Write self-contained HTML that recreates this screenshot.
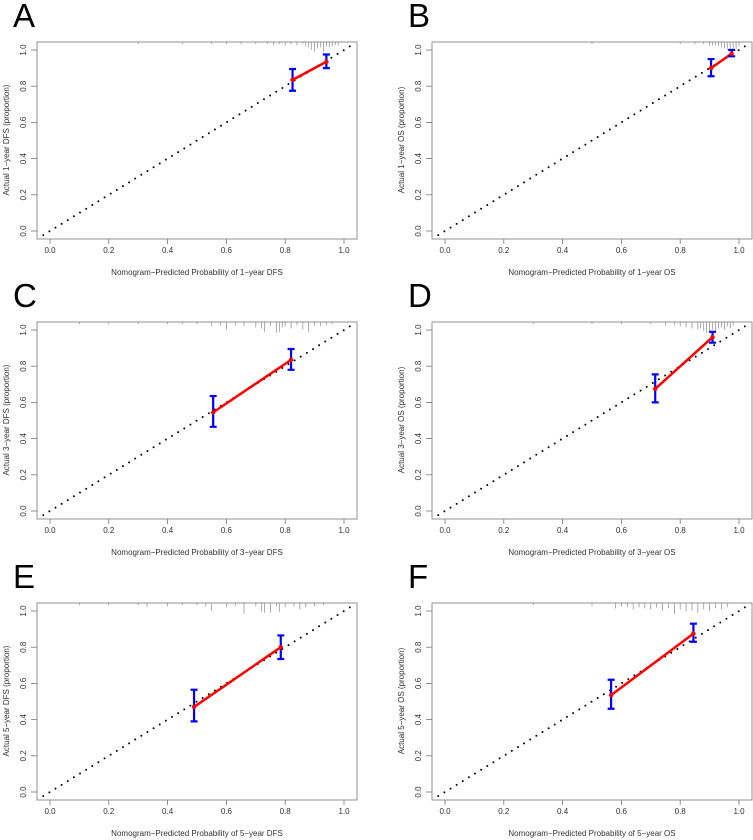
<!DOCTYPE html>
<html><head><meta charset="utf-8"><style>
html,body{margin:0;padding:0;background:#fff;}
svg{display:block;font-family:"Liberation Sans",sans-serif;}
</style></head><body>
<svg id="fig" width="753" height="840" viewBox="0 0 753 840" xmlns="http://www.w3.org/2000/svg"></svg>
<script>
const panelLetters = ['A','B','C','D','E','F'];
const xTitles = ['Nomogram\u2212Predicted Probability of 1\u2212year DFS','Nomogram\u2212Predicted Probability of 1\u2212year OS','Nomogram\u2212Predicted Probability of 3\u2212year DFS','Nomogram\u2212Predicted Probability of 3\u2212year OS','Nomogram\u2212Predicted Probability of 5\u2212year DFS','Nomogram\u2212Predicted Probability of 5\u2212year OS'];
const yTitles = ['Actual 1\u2212year DFS (proportion)','Actual 1\u2212year OS (proportion)','Actual 3\u2212year DFS (proportion)','Actual 3\u2212year OS (proportion)','Actual 5\u2212year DFS (proportion)','Actual 5\u2212year OS (proportion)'];
const tickValues = [0,0.2,0.4,0.6,0.8,1.0];
const tickLabels = ['0.0','0.2','0.4','0.6','0.8','1.0'];
const predA=[0.825,0.94], obsA=[0.835,0.935], loA=[0.775,0.90], hiA=[0.895,0.975];
const predB=[0.905,0.975], obsB=[0.90,0.98], loB=[0.855,0.965], hiB=[0.95,1.0];
const predC=[0.555,0.82], obsC=[0.545,0.835], loC=[0.465,0.78], hiC=[0.635,0.895];
const predD=[0.715,0.91], obsD=[0.675,0.96], loD=[0.60,0.93], hiD=[0.755,0.99];
const predE=[0.49,0.785], obsE=[0.47,0.80], loE=[0.39,0.735], hiE=[0.565,0.865];
const predF=[0.565,0.845], obsF=[0.535,0.875], loF=[0.46,0.83], hiF=[0.62,0.93];
const rugA=[0.3,0.45,0.55,0.6,0.65,0.7,0.74,0.76,0.78,0.8,0.82,0.84,0.86,0.87,0.88,0.89,0.9,0.91,0.92,0.93,0.94,0.95,0.96,0.97,0.98];
const rugAh=[1,1,1,1,1,1,1,2,1,2,1,2,1,3,4,6,8,5,4,8,3,4,3,2,2];
const rugB=[0.5,0.8,0.85,0.88,0.9,0.91,0.92,0.93,0.94,0.95,0.96,0.97,0.98,0.99,1.0];
const rugBh=[1,1,1,1,2,2,2,3,4,5,6,7,6,5,3];
const rugC=[0.1,0.2,0.3,0.4,0.45,0.5,0.55,0.58,0.6,0.63,0.66,0.7,0.72,0.73,0.75,0.77,0.78,0.79,0.8,0.82,0.84,0.86,0.88,0.9,0.92,0.94,0.96];
const rugCh=[1,1,1,1,1,1,3,2,6,2,3,4,5,8,3,9,8,4,3,5,2,6,8,2,3,2,1];
const rugD=[0.3,0.5,0.6,0.7,0.75,0.78,0.8,0.82,0.84,0.86,0.87,0.88,0.89,0.9,0.91,0.92,0.93,0.94,0.95,0.96,0.97,0.98];
const rugDh=[1,1,1,1,2,2,3,4,5,6,5,7,9,8,6,7,5,4,6,3,5,2];
const rugE=[0.1,0.2,0.3,0.33,0.4,0.45,0.5,0.53,0.55,0.6,0.63,0.66,0.7,0.72,0.73,0.75,0.77,0.78,0.8,0.83,0.85,0.87,0.9,0.93];
const rugEh=[1,1,1,3,2,1,1,2,6,3,2,9,2,7,8,8,2,7,3,2,5,3,2,1];
const rugF=[0.3,0.5,0.58,0.6,0.62,0.64,0.66,0.68,0.7,0.72,0.74,0.76,0.78,0.8,0.82,0.84,0.86,0.88,0.9,0.92,0.94,0.96];
const rugFh=[1,2,4,2,3,5,3,4,5,3,6,4,9,5,7,6,8,5,6,4,5,3];

const preds=[predA,predB,predC,predD,predE,predF];
const obss=[obsA,obsB,obsC,obsD,obsE,obsF];
const los=[loA,loB,loC,loD,loE,loF];
const his=[hiA,hiB,hiC,hiD,hiE,hiF];
const rugs=[rugA,rugB,rugC,rugD,rugE,rugF];
const rugHs=[rugAh,rugBh,rugCh,rugDh,rugEh,rugFh];

const NS='http://www.w3.org/2000/svg';
const svg=document.getElementById('fig');
function mk(tag,attrs,parent){const e=document.createElementNS(NS,tag);for(const k in attrs)e.setAttribute(k,attrs[k]);(parent||svg).appendChild(e);return e;}

for(let p=0;p<6;p++){
  const col=p%2,row=Math.floor(p/2);
  const ox=col*395, oy=row*280 + (row===2?1:0);
  const xs=v=>ox+50+294*v;
  const ys=v=>oy+231-181*v;
  const g=mk('g',{});
  
  
  const L=mk('text',{x:ox+13,y:oy+27,'font-size':33,fill:'#000'},g);
  L.textContent=panelLetters[p];
  
  
  const box=mk('rect',{x:ox+37,y:oy+42,width:320,height:197,fill:'none',stroke:'#777','stroke-width':0.8},g);
  
  
  for(let i=0;i<tickValues.length;i++){
    const v=tickValues[i];
    const tx=mk('line',{x1:xs(v),x2:xs(v),y1:oy+239,y2:oy+244,stroke:'#777','stroke-width':0.8},g);
    
    
    const lx=mk('text',{x:xs(v),y:oy+253,'font-size':8,fill:'#333','text-anchor':'middle'},g);
    lx.textContent=tickLabels[i];
    
    
    const ty=mk('line',{x1:ox+31,x2:ox+37,y1:ys(v),y2:ys(v),stroke:'#777','stroke-width':0.8},g);
    
    
    const ly=mk('text',{x:ox+26,y:ys(v),'font-size':8,fill:'#333','text-anchor':'middle',transform:`rotate(-90 ${ox+26} ${ys(v)})`},g);
    ly.textContent=tickLabels[i];
    
    
  }
  const xt=mk('text',{x:ox+197,y:oy+275,'font-size':8,fill:'#333','text-anchor':'middle'},g);
  xt.textContent=xTitles[p];
  
  
  const yt=mk('text',{x:ox+9,y:oy+140,'font-size':8,fill:'#333','text-anchor':'middle',transform:`rotate(-90 ${ox+9} ${oy+140})`},g);
  yt.textContent=yTitles[p];
  
  
  const rx=rugs[p],rh=rugHs[p];
  for(let i=0;i<rx.length;i++){
    const r=mk('line',{x1:xs(rx[i]),x2:xs(rx[i]),y1:oy+42,y2:oy+42+rh[i]*1.1+1,stroke:'#888','stroke-width':0.7},g);
    
    
  }
  const d=mk('line',{x1:xs(-0.023),y1:ys(-0.023),x2:xs(1.027),y2:ys(1.027),stroke:'#000','stroke-width':2,'stroke-linecap':'round','stroke-dasharray':'0 7.2'},g);
  
  
  const px=preds[p],py=obss[p],lo=los[p],hi=his[p];
  const rl=mk('line',{x1:xs(px[0]),y1:ys(py[0]),x2:xs(px[1]),y2:ys(py[1]),stroke:'#ff0000','stroke-width':2.5},g);
  
  
  for(let i=0;i<px.length;i++){
    const e=mk('path',{d:`M${xs(px[i])-3.5},${ys(hi[i])}H${xs(px[i])+3.5}M${xs(px[i])},${ys(hi[i])}V${ys(lo[i])}M${xs(px[i])-3.5},${ys(lo[i])}H${xs(px[i])+3.5}`,stroke:'#0000ff','stroke-width':2.2,fill:'none'},g);
    
    
    const c=mk('circle',{cx:xs(px[i]),cy:ys(py[i]),r:2.2,fill:'#ff0000'},g);
    
    
  }
}
</script>
</body></html>
